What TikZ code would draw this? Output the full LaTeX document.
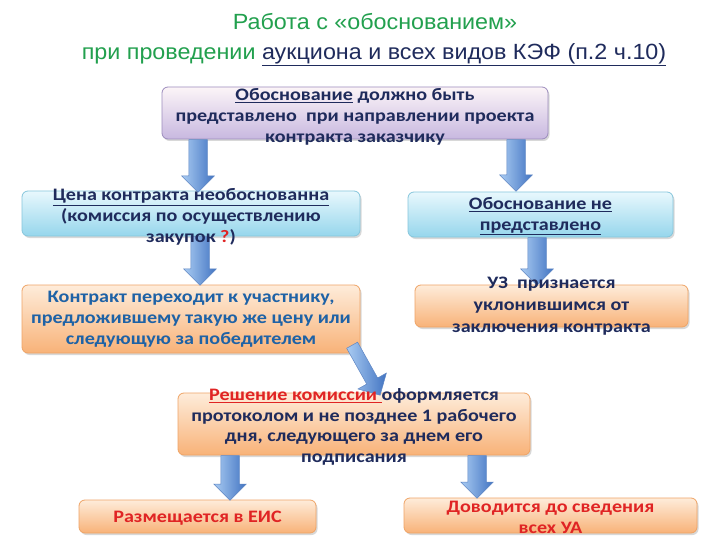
\documentclass[tikz,border=0pt]{standalone}
\usepackage{fontspec}
\setmainfont[FakeStretch=1.15]{Carlito}
\newfontfamily\titlefont[FakeStretch=1.06]{Liberation Sans}
\usetikzlibrary{shapes.arrows,shadows,calc}
\definecolor{navy}{HTML}{1F2B5C}
\definecolor{tgreen}{HTML}{22A04E}
\definecolor{bblue}{HTML}{1E62A6}
\definecolor{rred}{HTML}{E02424}
\definecolor{arrlight}{HTML}{A9CBF2}
\definecolor{arrdark}{HTML}{4274C2}
\definecolor{arredge}{HTML}{5E86C4}
\tikzset{
  box/.style={rounded corners=6pt, line width=0.8pt, inner sep=0pt,
    drop shadow={opacity=0.3, shadow xshift=1.5pt, shadow yshift=-2pt}},
  purplebox/.style={box, top color=purple!4!white, bottom color={rgb,255:red,200;green,184;blue,224}, draw={rgb,255:red,156;green,140;blue,189}},
  bluebox/.style={box, top color={rgb,255:red,232;green,248;blue,253}, bottom color={rgb,255:red,150;green,214;blue,236}, draw={rgb,255:red,134;green,198;blue,220}},
  orangebox/.style={box, top color={rgb,255:red,254;green,236;blue,218}, bottom color={rgb,255:red,248;green,178;blue,120}, draw={rgb,255:red,239;green,164;blue,102}},
  txt/.style={align=center, inner sep=0pt, font=\bfseries\fontsize{17.5}{20.8}\selectfont},
  blockarr/.style={single arrow, single arrow head extend=7pt, minimum width=32pt,
    inner xsep=0pt, inner ysep=9pt, left color=arrlight, right color=arrdark, draw=arredge, line width=0.5pt},
  thinarr/.style={blockarr, inner ysep=6pt, single arrow head extend=10pt},
}
\newcommand\blockarrow[3][]{%
  \path let \p1=(#2), \p2=(#3), \n1={atan2(\y2-\y1,\x2-\x1)}, \n2={veclen(\x2-\x1,\y2-\y1)} in
    node[blockarr, #1, minimum height=\n2, rotate=\n1, anchor=tail] at (\p1) {};}
\begin{document}
\begin{tikzpicture}[x=1pt,y=-1pt]
\useasboundingbox[fill=white] (0,0) rectangle (720,540);
% title
\node[font=\titlefont\fontsize{22}{26}\selectfont, text=tgreen] (t1) at (375,22) {Работа с «обоснованием»};
\node[font=\titlefont\fontsize{22}{26}\selectfont, text=tgreen] (t2) at (374,55) {при проведении \textcolor{navy}{\underline{аукциона и всех видов КЭФ (п.2 ч.10)}}};
% boxes
\node[purplebox, minimum width=386pt, minimum height=52pt] (T) at (355,113) {};
\node[bluebox, minimum width=338pt, minimum height=45pt] (A) at (191,213.5) {};
\node[bluebox, minimum width=265pt, minimum height=45pt] (C) at (540.5,214.5) {};
\node[orangebox, minimum width=338pt, minimum height=68pt] (B) at (191,319) {};
\node[orangebox, minimum width=273pt, minimum height=42pt] (D) at (551.5,306) {};
\node[orangebox, minimum width=352pt, minimum height=62pt] (E) at (354,424) {};
\node[orangebox, minimum width=237pt, minimum height=33pt] (F) at (197.5,516.5) {};
\node[orangebox, minimum width=293pt, minimum height=35pt] (G) at (550.5,515.5) {};
% arrow end points
\coordinate (a1s) at (T.south -| 198,0);  \coordinate (a1e) at (198,192);
\coordinate (a2s) at (T.south -| 516,0);  \coordinate (a2e) at (516,191);
\coordinate (a3s) at (A.south -| 200,0);  \coordinate (a3e) at (200,285);
\coordinate (a4s) at (C.south -| 537,0);  \coordinate (a4e) at (537,285);
\coordinate (a5s) at (352,345);           \coordinate (a5e) at (380,395);
\coordinate (a6s) at (E.south -| 230,0);  \coordinate (a6e) at (230,500);
\coordinate (a7s) at (E.south -| 477,0);  \coordinate (a7e) at (477,498);
\blockarrow{a1s}{a1e}
\blockarrow{a2s}{a2e}
\blockarrow{a3s}{a3e}
\blockarrow{a4s}{a4e}
\blockarrow[thinarr]{a5s}{a5e}
\blockarrow{a6s}{a6e}
\blockarrow{a7s}{a7e}
% texts
\node[txt, text=navy] (Tt) at (355,117) {\underline{Обоснование} должно быть\\представлено \ при направлении проекта\\контракта заказчику};
\node[txt, text=navy] (At) at (191,217) {\underline{Цена контракта необоснованна}\\(комиссия по осуществлению\\закупок \textcolor{rred}{?})};
\node[txt, text=navy] (Ct) at (540.5,216) {\underline{Обоснование не}\\\underline{представлено}};
\node[txt, text=bblue] (Bt) at (191,319) {Контракт переходит к участнику,\\предложившему такую же цену или\\следующую за победителем};
\node[txt, text=navy, font=\bfseries\fontsize{17.5}{22}\selectfont] (Dt) at (551.5,306) {УЗ \ признается\\уклонившимся от\\заключения контракта};
\node[txt, text=navy] (Et) at (354,427) {\textcolor{rred}{\underline{Решение комиссии }}оформляется\\протоколом и не позднее 1 рабочего\\дня, следующего за днем его\\подписания};
\node[txt, text=rred] (Ft) at (197.5,518) {Размещается в ЕИС};
\node[txt, text=rred] (Gt) at (550.5,517) {Доводится до сведения\\всех УА};
\end{tikzpicture}
\end{document}
